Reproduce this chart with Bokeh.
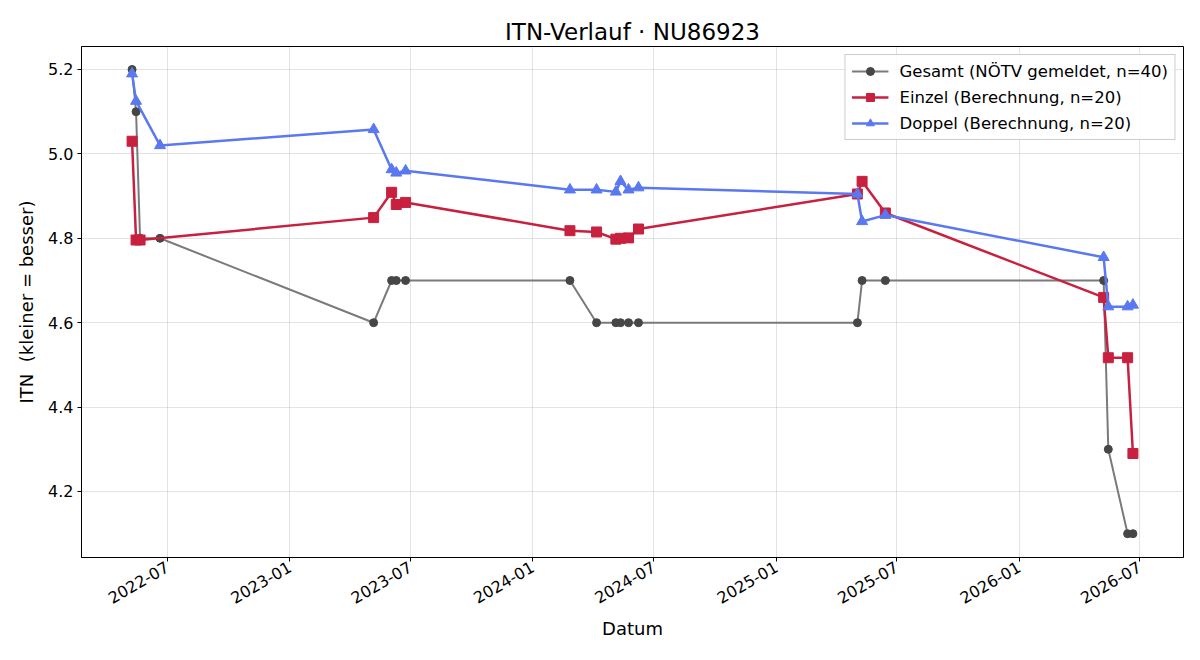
import numpy as np
import pandas as pd
from datetime import datetime
from bokeh.plotting import figure
from bokeh.models import (Range1d, FixedTicker, DatetimeTickFormatter, Legend, LegendItem,
                          NumeralTickFormatter)
from bokeh.embed import file_html
from bokeh.resources import INLINE

# ---- data ----
gesamt_dates = ["2022-05-09", "2022-05-15", "2022-05-21", "2022-06-20", "2023-05-07",
                "2023-06-03", "2023-06-10", "2023-06-24", "2024-02-26", "2024-04-06",
                "2024-05-05", "2024-05-12", "2024-05-24", "2024-06-08", "2025-05-03",
                "2025-05-10", "2025-06-14", "2026-05-08", "2026-05-15", "2026-06-13",
                "2026-06-21"]
gesamt_vals = [5.2, 5.1, 4.8, 4.8, 4.6, 4.7, 4.7, 4.7, 4.7, 4.6,
               4.6, 4.6, 4.6, 4.6, 4.6, 4.7, 4.7, 4.7, 4.3, 4.1, 4.1]

einzel_dates = ["2022-05-09", "2022-05-15", "2022-05-21", "2023-05-07", "2023-06-03",
                "2023-06-10", "2023-06-24", "2024-02-26", "2024-04-06", "2024-05-05",
                "2024-05-12", "2024-05-24", "2024-06-08", "2025-05-03", "2025-05-10",
                "2025-06-14", "2026-05-08", "2026-05-15", "2026-06-13", "2026-06-21"]
einzel_vals = [5.03, 4.796, 4.796, 4.849, 4.909, 4.880, 4.885, 4.818, 4.815, 4.798,
               4.800, 4.801, 4.822, 4.905, 4.935, 4.860, 4.660, 4.517, 4.517, 4.290]

doppel_dates = ["2022-05-09", "2022-05-15", "2022-06-20", "2023-05-07", "2023-06-03",
                "2023-06-10", "2023-06-24", "2024-02-26", "2024-04-06", "2024-05-05",
                "2024-05-12", "2024-05-24", "2024-06-08", "2025-05-03", "2025-05-10",
                "2025-06-14", "2026-05-08", "2026-05-15", "2026-06-13", "2026-06-21"]
doppel_vals = [5.19, 5.125, 5.02, 5.058, 4.963, 4.955, 4.960, 4.915, 4.915, 4.910,
               4.935, 4.915, 4.920, 4.905, 4.840, 4.855, 4.755, 4.638, 4.638, 4.642]

tick_labels = ["2022-07", "2023-01", "2023-07", "2024-01", "2024-07",
               "2025-01", "2025-07", "2026-01", "2026-07"]
y_ticks = [4.2, 4.4, 4.6, 4.8, 5.0, 5.2]

FONT = "DejaVu Sans"

gx = pd.to_datetime(gesamt_dates)
ex = pd.to_datetime(einzel_dates)
dx = pd.to_datetime(doppel_dates)

p = figure(width=1200, height=660, output_backend="svg", toolbar_location=None,
           x_axis_type="datetime",
           x_range=Range1d(start=datetime(2022, 2, 22), end=datetime(2026, 9, 5)),
           y_range=Range1d(start=4.0436, end=5.2545),
           min_border_left=81, min_border_right=17, min_border_top=46, min_border_bottom=103)

p.title.text = "ITN-Verlauf · NU86923"
p.title.align = "center"
p.title.text_font = FONT
p.title.text_font_size = "23px"
p.title.text_font_style = "normal"
p.title.text_color = "black"
p.title.standoff = 4

# ticks
tick_ms = [pd.Timestamp(t + "-01").value / 1e6 for t in tick_labels]
p.xaxis.ticker = FixedTicker(ticks=tick_ms)
fmt = "%Y-%m"
p.xaxis.formatter = DatetimeTickFormatter(years=fmt, months=fmt, days=fmt, hours=fmt,
                                          minutes=fmt, seconds=fmt, milliseconds=fmt,
                                          microseconds=fmt, minsec=fmt, hourmin=fmt)
p.xaxis.major_label_orientation = np.pi / 6
p.yaxis.ticker = FixedTicker(ticks=y_ticks)
p.yaxis.formatter = NumeralTickFormatter(format="0.0")

for ax in (p.xaxis, p.yaxis):
    ax.major_label_text_font = FONT
    ax.major_label_text_font_size = "16px"
    ax.major_label_text_color = "black"
    ax.axis_label_text_font = FONT
    ax.axis_label_text_font_size = "18px"
    ax.axis_label_text_font_style = "normal"
    ax.axis_label_text_color = "black"
    ax.major_tick_in = 0
    ax.major_tick_out = 4
    ax.minor_tick_in = 0
    ax.minor_tick_out = 0
    ax.axis_line_color = "black"
    ax.major_tick_line_color = "black"
    ax.major_label_standoff = 4

p.xaxis.axis_label = "Datum"
p.yaxis.axis_label = "ITN\u00a0\u00a0(kleiner = besser)"
p.yaxis.axis_label_standoff = 8
p.xaxis.axis_label_standoff = 6

p.outline_line_color = "black"
p.outline_line_alpha = 1
p.outline_line_width = 1

p.grid.grid_line_color = "#b0b0b0"
p.grid.grid_line_alpha = 0.35
p.grid.grid_line_width = 1

# series
g_line = p.line(gx, gesamt_vals, line_color="#7a7a7a", line_width=2)
g_mark = p.scatter(gx, gesamt_vals, marker="circle", size=8, fill_color="#464646",
                   line_color="#464646")

e_line = p.line(ex, einzel_vals, line_color="#c8203f", line_width=2.5)
e_mark = p.scatter(ex, einzel_vals, marker="square", size=10, fill_color="#c8203f",
                   line_color="#c8203f")

d_line = p.line(dx, doppel_vals, line_color="#5a78f0", line_width=2.5)
d_mark = p.scatter(dx, doppel_vals, marker="triangle", size=11, fill_color="#5a78f0",
                   line_color="#5a78f0")

legend = Legend(items=[
    LegendItem(label="Gesamt (NÖTV gemeldet, n=40)", renderers=[g_line, g_mark]),
    LegendItem(label="Einzel (Berechnung, n=20)", renderers=[e_line, e_mark]),
    LegendItem(label="Doppel (Berechnung, n=20)", renderers=[d_line, d_mark]),
], location="top_right")
legend.label_text_font = FONT
legend.label_text_font_size = "16.5px"
legend.label_text_color = "black"
legend.border_line_color = "#cccccc"
legend.border_line_alpha = 1
legend.background_fill_alpha = 0.85
legend.glyph_width = 37
legend.glyph_height = 20
legend.label_height = 20
legend.label_standoff = 11
legend.spacing = 6
legend.padding = 6
legend.margin = 8
p.add_layout(legend)

open("out.html", "w").write(file_html(p, INLINE))
